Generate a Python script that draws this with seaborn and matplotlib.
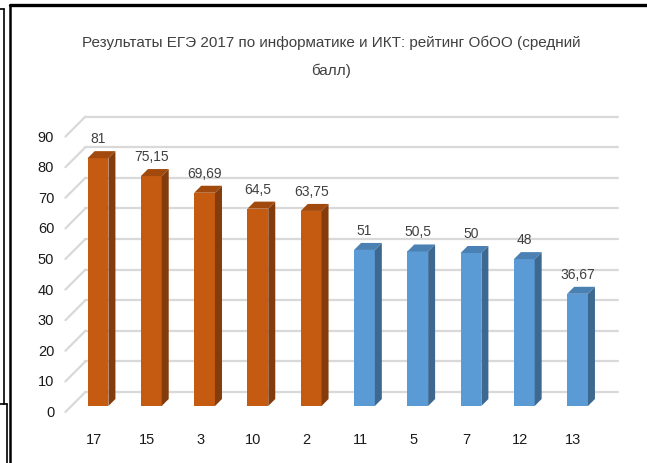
import matplotlib
matplotlib.use("Agg")
import matplotlib.pyplot as plt
import seaborn as sns
import pandas as pd
from matplotlib.lines import Line2D
from matplotlib.patches import Polygon
from matplotlib.transforms import ScaledTranslation

# ---- data ----
categories = ['17', '15', '3', '10', '2', '11', '5', '7', '12', '13']
values = [81, 75.15, 69.69, 64.5, 63.75, 51, 50.5, 50, 48, 36.67]
value_labels = ['81', '75,15', '69,69', '64,5', '63,75', '51', '50,5', '50', '48', '36,67']
groups = ['top'] * 5 + ['rest'] * 5
yticks = [0, 10, 20, 30, 40, 50, 60, 70, 80, 90]
title = 'Результаты ЕГЭ 2017 по информатике и ИКТ: рейтинг ОбОО (средний\nбалл)'

front = {'top': '#C55A11', 'rest': '#5B9BD5'}
side = {'top': '#843C0C', 'rest': '#3D6890'}
topc = {'top': '#A24A0E', 'rest': '#4A80B2'}

sns.set_style('white')
FONT = ['Liberation Sans', 'DejaVu Sans']
plt.rcParams['font.family'] = FONT

W, H = 647, 464
fig = plt.figure(figsize=(W / 100, H / 100), dpi=100)
left_px, right_px, bot_px, top_px = 71.4, 604.2, 407, 131.6
ax = fig.add_axes([left_px / W, 1 - bot_px / H, (right_px - left_px) / W, (bot_px - top_px) / H])

df = pd.DataFrame({'cat': categories, 'val': values, 'grp': groups})
sns.barplot(data=df, x='cat', y='val', hue='grp', order=categories, palette=front,
            dodge=False, width=0.39, saturation=1, legend=False, ax=ax, zorder=3,
            linewidth=0)
ax.set_xlim(-0.5, 9.5)
ax.set_ylim(0, 90)
for s in ax.spines.values():
    s.set_visible(False)
ax.set_xticks([])
ax.set_yticks([])
ax.set_xlabel('')
ax.set_ylabel('')
ax.patch.set_alpha(0)

# pixel -> data scales
fig.canvas.draw()
p0 = ax.transData.transform((0, 0))
p1 = ax.transData.transform((1, 10))
ppx = p1[0] - p0[0]          # px per x unit
ppy = (p1[1] - p0[1]) / 10   # px per y unit

grid_col = '#D9D9D9'
back = 14
for v in yticks:
    ax.plot([-0.5 + back / ppx, 9.5 + back / ppx], [v + back / ppy, v + back / ppy],
            color=grid_col, lw=1.6, zorder=1, clip_on=False)
    ax.plot([-0.5 - 6 / ppx, -0.5 + back / ppx], [v - 6 / ppy, v + back / ppy],
            color=grid_col, lw=1.6, zorder=1, clip_on=False)

# 3D faces
d = 7
dx, dy = d / ppx, d / ppy
bars = [p for p in ax.patches if p.get_height() > 0]
bars.sort(key=lambda p: p.get_x())
for p, g in zip(bars, groups):
    x0, w, h = p.get_x(), p.get_width(), p.get_height()
    x1 = x0 + w
    ax.add_patch(Polygon([(x1, 0), (x1 + dx, dy), (x1 + dx, h + dy), (x1, h)],
                         closed=True, facecolor=side[g], edgecolor='none', zorder=3))
    ax.add_patch(Polygon([(x0, h), (x1, h), (x1 + dx, h + dy), (x0 + dx, h + dy)],
                         closed=True, facecolor=topc[g], edgecolor='none', zorder=3))

# value labels
for i, (v, lab) in enumerate(zip(values, value_labels)):
    ax.annotate(lab, (i, v), xytext=(0, 20), textcoords='offset pixels',
                ha='center', va='center', fontsize=10, color='#404040',
                family=FONT, annotation_clip=False)

# y tick labels at front plane
ytr = ax.get_yaxis_transform() + ScaledTranslation(-0.172, -0.06, fig.dpi_scale_trans)
for v in yticks:
    ax.text(0, v, str(v), transform=ytr, ha='right', va='center', fontsize=10.5,
            color='#1a1a1a', family=FONT)

# x tick labels
xtr = ax.get_xaxis_transform() + ScaledTranslation(-0.045, -0.33, fig.dpi_scale_trans)
for i, c in enumerate(categories):
    ax.text(i, 0, c, transform=xtr, ha='center', va='center', fontsize=10.5,
            color='#1a1a1a', family=FONT)

fig.text(331 / W, 1 - 57 / H, title, ha='center', va='center', fontsize=11,
         color='#404040', linespacing=2.15, family=FONT)

# frame lines (figure pixel coords)
def fline(xs, ys, lw):
    fig.add_artist(Line2D([x / W for x in xs], [1 - y / H for y in ys],
                          transform=fig.transFigure, color='black', lw=lw))

fline([10, 647], [6, 6], 2.4)
fline([10, 10], [6, 464], 1.8)
fline([0, 4], [10, 10], 1.2)
fline([4, 4], [10, 405], 1.2)
fline([0, 7.3], [405, 405], 1.2)
fline([7.3, 7.3], [405, 464], 1.2)

fig.savefig('out.png', dpi=100)
